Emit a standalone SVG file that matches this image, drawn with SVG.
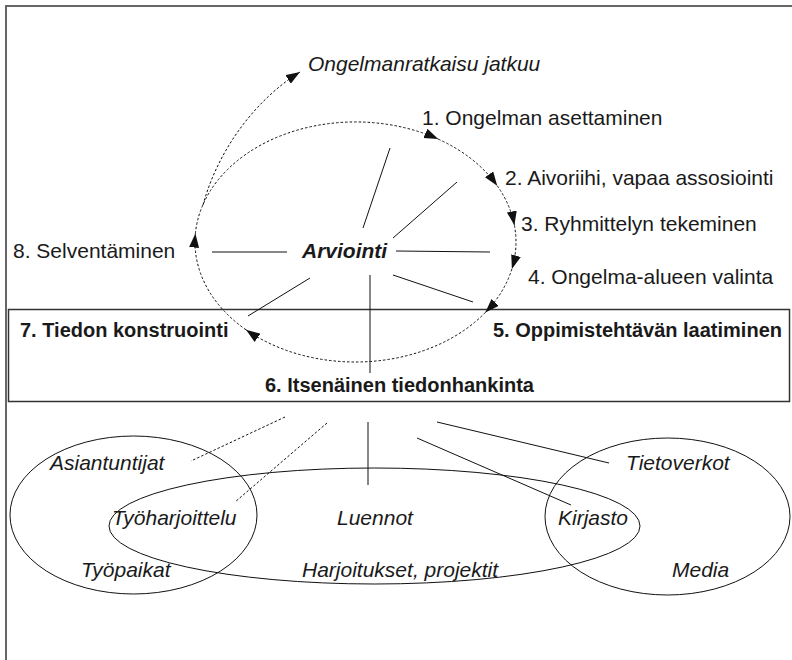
<svg xmlns="http://www.w3.org/2000/svg" width="792" height="660" viewBox="0 0 792 660">
<style>
  text { font-family: "Liberation Sans", Arial, sans-serif; fill: #1a1a1a; }
  .reg { font-size: 21px; }
  .bold { font-size: 20px; font-weight: bold; }
  .it { font-size: 21px; font-style: italic; }
  .bi { font-size: 21px; font-style: italic; font-weight: bold; }
  .dash { fill: none; stroke: #111; stroke-width: 1; stroke-dasharray: 2.5 2; }
  .solid { fill: none; stroke: #111; stroke-width: 1; }
  .shape { fill: none; stroke: #111; stroke-width: 1; }
</style>
<defs>
  <marker id="arr" markerUnits="userSpaceOnUse" markerWidth="15" markerHeight="11" refX="14" refY="5" orient="auto">
    <path d="M0,0 L14,5 L0,10 z" fill="#111"/>
  </marker>
</defs>
<rect width="792" height="660" fill="#ffffff"/>
<rect x="6" y="6" width="820" height="700" fill="none" stroke="#666" stroke-width="2"/>

<g id="box">
  <rect x="8.5" y="309.5" width="781" height="92" fill="none" stroke="#333" stroke-width="1.5"/>
</g>

<g id="connectors">
  <!-- cycle -->
  <path class="dash" d="M195.4,233.6 A160.5,120 0 0 1 438.2,139.1" marker-end="url(#arr)"/>
  <path class="dash" d="M438.2,139.1 A160.5,120 0 0 1 497.2,185.7" marker-end="url(#arr)"/>
  <path class="dash" d="M497.2,185.7 A160.5,120 0 0 1 514.4,225.3" marker-end="url(#arr)"/>
  <path class="dash" d="M514.4,225.3 A160.5,120 0 0 1 511.9,269.0" marker-end="url(#arr)"/>
  <path class="dash" d="M511.9,269.0 A160.5,120 0 0 1 485.3,312.5" marker-end="url(#arr)"/>
  <path class="dash" d="M485.3,312.5 A160.5,120 0 0 1 246.0,329.8" marker-end="url(#arr)"/>
  <path class="dash" d="M246.0,329.8 A160.5,120 0 0 1 195.4,233.6" marker-end="url(#arr)"/>
  <!-- continuation -->
  <path class="dash" d="M203,205 C218,150 255,100 300,72" marker-end="url(#arr)"/>
  <!-- spokes from Arviointi -->
  <line class="solid" x1="390" y1="148" x2="363" y2="228"/>
  <line class="solid" x1="457" y1="182" x2="393" y2="238"/>
  <line class="solid" x1="396" y1="251" x2="490" y2="252"/>
  <line class="solid" x1="393" y1="275" x2="473" y2="302"/>
  <line class="solid" x1="370" y1="275" x2="370" y2="373"/>
  <line class="solid" x1="310" y1="278" x2="248" y2="316"/>
  <line class="solid" x1="212" y1="252" x2="287" y2="252"/>
  <!-- lines to sources -->
  <line class="dash" x1="285" y1="417" x2="191" y2="461"/>
  <line class="dash" x1="327" y1="423" x2="235" y2="502"/>
  <line class="solid" x1="368" y1="422" x2="368" y2="485"/>
  <line class="solid" x1="417" y1="438" x2="571" y2="505"/>
  <line class="solid" x1="437" y1="422" x2="609" y2="463"/>
</g>

<g id="n-jatkuu"><text class="it" x="308" y="71">Ongelmanratkaisu jatkuu</text></g>
<g id="n-1"><text class="reg" x="422" y="125">1. Ongelman asettaminen</text></g>
<g id="n-2"><text class="reg" x="505" y="185">2. Aivoriihi, vapaa assosiointi</text></g>
<g id="n-3"><text class="reg" x="521" y="231">3. Ryhmittelyn tekeminen</text></g>
<g id="n-4"><text class="reg" x="528" y="284">4. Ongelma-alueen valinta</text></g>
<g id="n-5"><text class="bold" x="493" y="337">5. Oppimistehtävän laatiminen</text></g>
<g id="n-6"><text class="bold" x="265" y="392">6. Itsenäinen tiedonhankinta</text></g>
<g id="n-7"><text class="bold" x="20" y="337">7. Tiedon konstruointi</text></g>
<g id="n-8"><text class="reg" x="13" y="258">8. Selventäminen</text></g>
<g id="n-arviointi"><text class="bi" x="302" y="258">Arviointi</text></g>

<g id="e-left"><ellipse class="shape" cx="133.5" cy="515" rx="123.5" ry="79"/></g>
<g id="e-mid"><ellipse class="shape" cx="374.5" cy="526" rx="265.5" ry="58"/></g>
<g id="e-right"><ellipse class="shape" cx="667.5" cy="516.5" rx="122.5" ry="78.5"/></g>

<g id="n-asiantuntijat"><text class="it" x="50" y="470">Asiantuntijat</text></g>
<g id="n-tietoverkot"><text class="it" x="626" y="470">Tietoverkot</text></g>
<g id="n-tyoharjoittelu"><text class="it" x="112" y="525">Työharjoittelu</text></g>
<g id="n-luennot"><text class="it" x="337" y="525">Luennot</text></g>
<g id="n-kirjasto"><text class="it" x="558" y="525">Kirjasto</text></g>
<g id="n-tyopaikat"><text class="it" x="81" y="577">Työpaikat</text></g>
<g id="n-harjoitukset"><text class="it" x="302" y="577">Harjoitukset, projektit</text></g>
<g id="n-media"><text class="it" x="672" y="577">Media</text></g>
</svg>
